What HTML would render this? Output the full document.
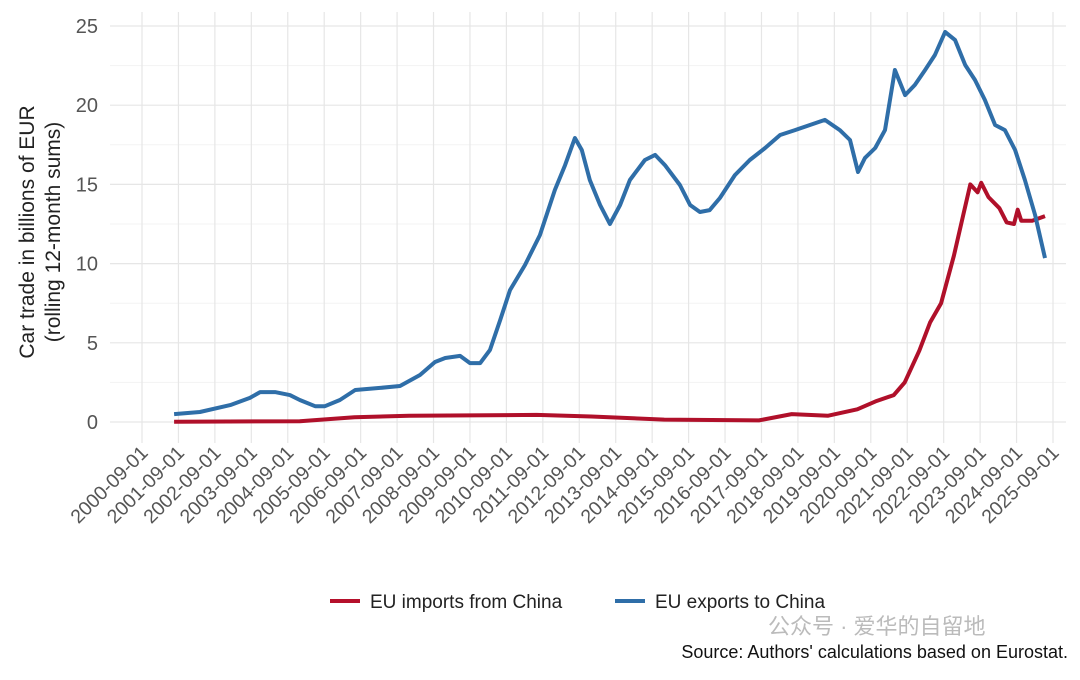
<!DOCTYPE html>
<html><head><meta charset="utf-8"><style>
body{margin:0;background:#fff;width:1080px;height:675px;overflow:hidden;font-family:"Liberation Sans","Noto Sans CJK SC",sans-serif}
</style></head><body>
<svg width="1080" height="675">
<g id="grid"></g><g id="axes"></g><g id="lines"></g>
<text transform="translate(34,232) rotate(-90)" text-anchor="middle" font-size="21" fill="#222">Car trade in billions of EUR</text>
<text transform="translate(60,232) rotate(-90)" text-anchor="middle" font-size="21" fill="#222">(rolling 12-month sums)</text>
<g>
<line x1="330" y1="601" x2="360" y2="601" stroke="#b5102b" stroke-width="4"/>
<text x="370" y="608" font-size="19" fill="#222">EU imports from China</text>
<line x1="615" y1="601" x2="645" y2="601" stroke="#2f6ea8" stroke-width="4"/>
<text x="655" y="608" font-size="19" fill="#222">EU exports to China</text>
</g>
<text x="768" y="634" font-size="22" fill="#bbb">公众号 · 爱华的自留地</text>
<text x="1068" y="658" text-anchor="end" font-size="18" fill="#111">Source: Authors' calculations based on Eurostat.</text>
</svg>
<script>
const yTicks=[0,5,10,15,20,25];
const xTickYears=[2000,2001,2002,2003,2004,2005,2006,2007,2008,2009,2010,2011,2012,2013,2014,2015,2016,2017,2018,2019,2020,2021,2022,2023,2024,2025];
const exportDates=[2001.55,2002.26,2003.09,2003.63,2003.91,2004.32,2004.73,2005.0,2005.42,2005.69,2006.1,2006.52,2007.2,2007.75,2008.3,2008.71,2008.99,2009.4,2009.67,2009.95,2010.22,2010.5,2010.77,2011.18,2011.59,2012.0,2012.28,2012.55,2012.74,2012.96,2013.24,2013.51,2013.79,2014.06,2014.47,2014.75,2015.02,2015.43,2015.71,2015.98,2016.25,2016.53,2016.94,2017.35,2017.77,2018.18,2018.59,2019.0,2019.41,2019.82,2020.1,2020.32,2020.51,2020.79,2021.06,2021.33,2021.61,2021.88,2022.16,2022.43,2022.71,2022.98,2023.26,2023.53,2023.8,2024.08,2024.35,2024.63,2024.9,2025.18,2025.45];
const exportValues=[0.5,0.63,1.07,1.52,1.89,1.89,1.7,1.39,1.0,1.0,1.39,2.02,2.15,2.27,2.97,3.79,4.04,4.17,3.72,3.72,4.55,6.44,8.33,9.91,11.8,14.65,16.22,17.93,17.17,15.28,13.7,12.5,13.7,15.28,16.54,16.86,16.22,14.96,13.7,13.26,13.38,14.14,15.59,16.54,17.3,18.12,18.43,18.75,19.07,18.43,17.8,15.78,16.67,17.3,18.43,22.22,20.64,21.28,22.22,23.17,24.62,24.12,22.54,21.59,20.33,18.75,18.43,17.17,15.28,13.07,10.35];
const importDates=[2001.55,2005.0,2006.5,2008.0,2011.5,2013.0,2015.0,2017.6,2018.5,2019.5,2020.3,2020.8,2021.3,2021.6,2022.0,2022.3,2022.6,2022.95,2023.2,2023.4,2023.6,2023.7,2023.9,2024.2,2024.4,2024.6,2024.7,2024.8,2025.1,2025.45];
const importValues=[0.02,0.05,0.3,0.4,0.45,0.35,0.15,0.1,0.5,0.4,0.8,1.3,1.7,2.5,4.5,6.3,7.5,10.5,13,15,14.5,15.1,14.2,13.5,12.6,12.5,13.4,12.7,12.7,13.0];
const NS="http://www.w3.org/2000/svg";
const X=d=>142+(d-2000.67)*36.44;
const Y=v=>422-v*15.84;
function mk(tag,attrs,parent){const e=document.createElementNS(NS,tag);for(const k in attrs)e.setAttribute(k,attrs[k]);document.getElementById(parent).appendChild(e);return e;}
yTicks.forEach(v=>{
 const l=mk('line',{x1:110,x2:1066,y1:Y(v),y2:Y(v),stroke:'#e6e6e6','stroke-width':1.2},'grid');
 
 
 if(v<25){const m=mk('line',{x1:110,x2:1066,y1:Y(v+2.5),y2:Y(v+2.5),stroke:'#f3f3f3','stroke-width':1},'grid');
 
 }
 const t=mk('text',{x:98,y:Y(v)+7,'text-anchor':'end','font-size':20,fill:'#555'},'axes');
 t.textContent=v;
 
 
});
xTickYears.forEach(yr=>{
 const x=X(yr+0.67);
 const l=mk('line',{x1:x,x2:x,y1:12,y2:443,stroke:'#e6e6e6','stroke-width':1.2},'grid');
 
 
 const t=mk('text',{transform:`translate(${x+7},${454}) rotate(-45)`,'text-anchor':'end','font-size':19.5,fill:'#555'},'axes');
 t.textContent=yr+'-09-01';
 
 
});
function path(ds,vs){return ds.map((d,i)=>(i?'L':'M')+X(d).toFixed(1)+','+Y(vs[i]).toFixed(1)).join(' ');}
const pi=mk('path',{d:path(importDates,importValues),fill:'none',stroke:'#b0102a','stroke-width':4,'stroke-linejoin':'round'},'lines');


const pe=mk('path',{d:path(exportDates,exportValues),fill:'none',stroke:'#2f6ea8','stroke-width':4,'stroke-linejoin':'round'},'lines');


</script>
</body></html>
